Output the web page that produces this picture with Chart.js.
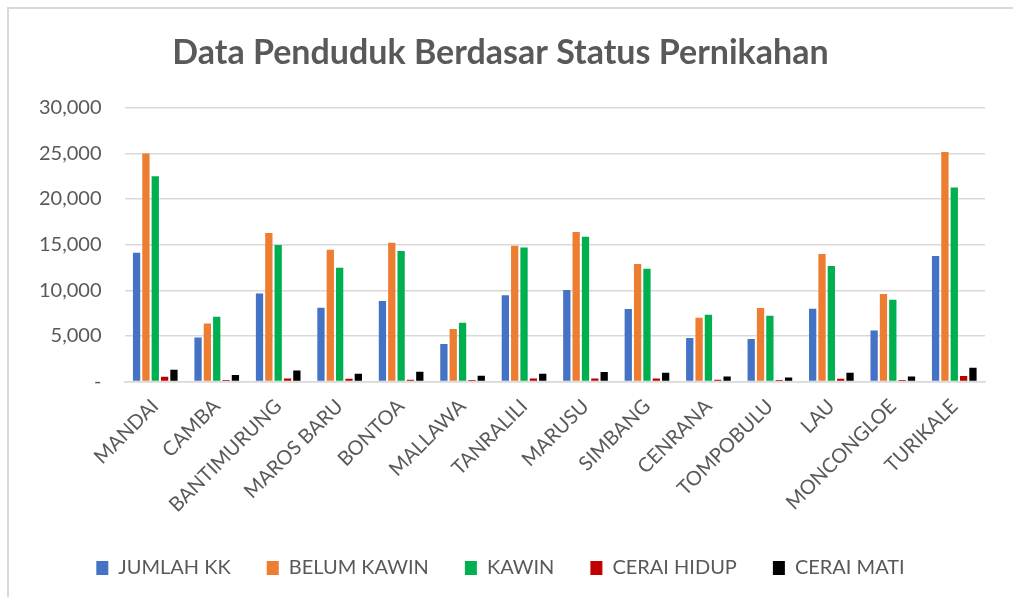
<!DOCTYPE html>
<html lang="en">
<head>
  <meta charset="UTF-8">
  <title>Data Penduduk Berdasar Status Pernikahan</title>
  <script src="https://cdn.jsdelivr.net/npm/chart.js"></script>
  <style>
    html, body { margin: 0; padding: 0; background: #ffffff; overflow: hidden; }
    .wrap { position: relative; width: 1013px; height: 597px; }
    .frame { position: absolute; left: 7px; top: 7px; width: 1020px; height: 600px; border: 2px solid #d9d9d9; pointer-events: none; }
  </style>
</head>
<body>
  <div class="wrap">
    <canvas id="chart" width="1013" height="597"></canvas>
    <div class="frame"></div>
  </div>

  <script>
    const kecamatan = ['MANDAI', 'CAMBA', 'BANTIMURUNG', 'MAROS BARU', 'BONTOA', 'MALLAWA', 'TANRALILI',
      'MARUSU', 'SIMBANG', 'CENRANA', 'TOMPOBULU', 'LAU', 'MONCONGLOE', 'TURIKALE'];

    const jumlahKK    = [14100, 4830, 9650, 8090, 8820, 4100, 9440, 10020, 7940, 4760, 4650, 7980, 5600, 13760];
    const belumKawin  = [25000, 6360, 16280, 14450, 15220, 5750, 14890, 16390, 12880, 6990, 8050, 13980, 9590, 25160];
    const kawin       = [22490, 7100, 14960, 12470, 14300, 6440, 14700, 15870, 12360, 7320, 7210, 12660, 8960, 21250];
    const ceraiHidup  = [510, 170, 330, 300, 190, 150, 330, 330, 330, 190, 150, 300, 150, 590];
    const ceraiMati   = [1280, 700, 1210, 850, 1060, 625, 850, 1030, 955, 550, 440, 955, 550, 1500];

    const yTicks = [0, 5000, 10000, 15000, 20000, 25000, 30000];

    const fontFamily = "Lato, 'Open Sans', sans-serif";
    const textGray = '#595959';

    function series(label, data, color) {
      return {
        label,
        data,
        backgroundColor: color,
        borderWidth: 0,
        barPercentage: 0.78,
        categoryPercentage: 0.76
      };
    }

    new Chart(document.getElementById('chart').getContext('2d'), {
      type: 'bar',
      data: {
        labels: kecamatan,
        datasets: [
          series('JUMLAH KK', jumlahKK, '#4472c4'),
          series('BELUM KAWIN', belumKawin, '#ed7d31'),
          series('KAWIN', kawin, '#00b050'),
          series('CERAI HIDUP', ceraiHidup, '#c00000'),
          series('CERAI MATI', ceraiMati, '#000000')
        ]
      },
      options: {
        responsive: false,
        animation: false,
        layout: { padding: { left: 16, right: 28, top: 25, bottom: 9 } },
        plugins: {
          title: {
            display: true,
            text: 'Data Penduduk Berdasar Status Pernikahan',
            color: textGray,
            font: { family: fontFamily, size: 34, weight: 'bold' },
            padding: { top: 8, bottom: 34 }
          },
          legend: {
            position: 'bottom',
            labels: {
              color: textGray,
              font: { family: fontFamily, size: 20 },
              boxWidth: 12,
              boxHeight: 14,
              padding: 36
            }
          },
          tooltip: { enabled: false }
        },
        scales: {
          x: {
            grid: { display: false },
            border: { color: '#d9d9d9', width: 1.5 },
            ticks: {
              color: textGray,
              padding: 5,
              font: { family: fontFamily, size: 20 },
              minRotation: 45,
              maxRotation: 45,
              autoSkip: false
            }
          },
          y: {
            min: 0,
            max: 30000,
            afterBuildTicks: axis => { axis.ticks = yTicks.map(v => ({ value: v })); },
            grid: { color: '#d9d9d9', lineWidth: 1.5, drawTicks: false },
            border: { display: false },
            ticks: {
              color: textGray,
              padding: 23,
              font: { family: fontFamily, size: 20 },
              callback: v => v === 0 ? '-' : v.toLocaleString('en-US')
            }
          }
        }
      }
    });
  </script>
</body>
</html>
